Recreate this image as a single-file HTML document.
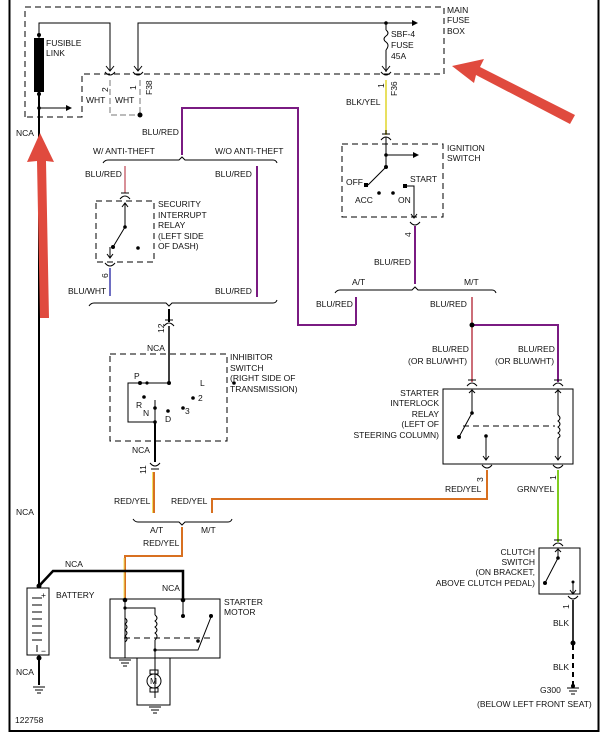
<!DOCTYPE html>
<html><head><meta charset="utf-8"><style>
html,body{margin:0;padding:0;background:#fff}
svg{display:block}
text{font-family:"Liberation Sans",sans-serif;font-size:8.5px;fill:#111}
</style></head><body>
<svg width="604" height="735" viewBox="0 0 604 735" xmlns="http://www.w3.org/2000/svg">
<rect x="0" y="0" width="604" height="735" fill="#fff"/>
<rect x="9.5" y="-2" width="589" height="733" fill="none" stroke="#000" stroke-width="2"/>
<g fill="none" stroke="#000" stroke-width="1" stroke-dasharray="6,4">
<path d="M25,117 V7 H444 V74 H82 V117 Z"/>
<rect x="96" y="201" width="58" height="61"/>
<rect x="110" y="354" width="117" height="87"/>
<rect x="342" y="144" width="101" height="73"/>
<path d="M124,638 H210"/>
<path d="M463,426 H555"/>
</g>
<!-- fusible link & top wires -->
<g stroke="#000" stroke-width="1" fill="none">
<path d="M39,38 V23 H110 V70"/>
<path d="M138,70 V23 H412"/>
<path d="M386,23 V30 M386,50 V72"/>
<path d="M386,30 q4,3 0,6 q-4,3 0,6 q4,3 0,8"/>
<path d="M39,108 H68"/>
<path d="M105,72 q5,6 10,0 M133,72 q5,6 10,0 M381,72 q5,6 10,0"/>
<path d="M106,66 l4,5 4,-5 M134,66 l4,5 4,-5 M382,66 l4,5 4,-5"/>
</g>
<polygon points="412,20 418,23 412,26" fill="#000"/>
<polygon points="66,105 72,108 66,111" fill="#000"/>
<circle cx="39" cy="35" r="2" fill="#000"/><circle cx="39" cy="94" r="2" fill="#000"/>
<circle cx="39" cy="108" r="1.8" fill="#000"/><circle cx="386" cy="23" r="1.8" fill="#000"/>
<rect x="34" y="38" width="10" height="54" fill="#000"/>
<line x1="39" y1="92" x2="39" y2="585" stroke="#000" stroke-width="2"/>
<path d="M110,80 V115 H140 M140,80 V115" stroke="#bbb" stroke-width="2" fill="none" stroke-dasharray="6,3"/>
<circle cx="140" cy="115" r="2.5" fill="#000"/>
<text x="46" y="46">FUSIBLE</text><text x="46" y="56">LINK</text>
<text x="86" y="103">WHT</text><text x="115" y="103">WHT</text>
<text transform="translate(108,92) rotate(-90)">2</text>
<text transform="translate(136,90) rotate(-90)">1</text>
<text transform="translate(152,95) rotate(-90)">F38</text>
<text x="391" y="37">SBF-4</text><text x="391" y="48">FUSE</text><text x="391" y="59">45A</text>
<text x="447" y="13">MAIN</text><text x="447" y="23">FUSE</text><text x="447" y="34">BOX</text>
<text x="16" y="136">NCA</text>
<text transform="translate(384,88) rotate(-90)">1</text>
<text transform="translate(397,96) rotate(-90)">F36</text>
<line x1="386" y1="80" x2="386" y2="135" stroke="#e8e060" stroke-width="2"/>
<text x="346" y="105">BLK/YEL</text>
<!-- ignition -->
<g stroke="#000" fill="none">
<path d="M381,140 q5,-6 10,0 M382,134 h8 M386,134 v-4"/>
<path d="M386,137 V167 M386,155 H413 M386,167 L368,185"/>
<path d="M405,186 H414 V217"/>
<path d="M410,222 q5,6 10,0 M411,214 l3,4 3,-4"/>
</g>
<polygon points="413,152 419,155 413,158" fill="#000"/>
<circle cx="386" cy="155" r="1.8"/><circle cx="386" cy="167" r="2"/>
<rect x="364" y="183" width="4" height="4"/><circle cx="379" cy="193" r="1.8"/><circle cx="393" cy="193" r="1.8"/><rect x="403" y="184" width="4" height="4"/>
<text x="447" y="151">IGNITION</text><text x="447" y="161">SWITCH</text>
<text x="346" y="185">OFF</text><text x="355" y="203">ACC</text><text x="398" y="203">ON</text><text x="410" y="182">START</text>
<text transform="translate(411,237) rotate(-90)">4</text>
<line x1="415" y1="226" x2="415" y2="284" stroke="#7a1b82" stroke-width="2"/>
<text x="374" y="265">BLU/RED</text>
<path d="M335,293 q2,-3 5,-3 H412 l3,-3 3,3 H492 q3,0 4,3" stroke="#000" fill="none"/>
<text x="352" y="285">A/T</text><text x="464" y="285">M/T</text>
<text x="316" y="307">BLU/RED</text><text x="430" y="307">BLU/RED</text>
<line x1="356" y1="297" x2="356" y2="325" stroke="#7a1b82" stroke-width="2"/>
<line x1="472" y1="297" x2="472" y2="382" stroke="#b02030" stroke-width="1.3"/>
<path d="M472,325 H558 V382" stroke="#7a1b82" stroke-width="2" fill="none"/>
<circle cx="472" cy="325" r="2.5"/>
<!-- purple from brace -->
<path d="M182,155 V108 H298 V325 H356" stroke="#7a1b82" stroke-width="2" fill="none"/>
<text x="142" y="135">BLU/RED</text>
<path d="M103,163 q2,-3 5,-3 H179 l3,-3 3,3 H273 q3,0 4,3" stroke="#000" fill="none"/>
<text x="93" y="154">W/ ANTI-THEFT</text><text x="215" y="154">W/O ANTI-THEFT</text>
<text x="85" y="177">BLU/RED</text><text x="215" y="177">BLU/RED</text>
<line x1="125" y1="166" x2="125" y2="193" stroke="#b02030" stroke-width="1"/>
<line x1="257" y1="166" x2="257" y2="297" stroke="#7a1b82" stroke-width="2"/>
<g stroke="#000" fill="none">
<path d="M120,199 q5,-6 10,0 M121,193 h8"/>
<path d="M125,203 V227 L113,247 M122,207 l3,-4 3,4"/>
<path d="M110,247 V258 M107,254 l3,4 3,-4 M105,263 q5,6 10,0"/>
</g>
<circle cx="125" cy="227" r="1.8"/><circle cx="113" cy="247" r="2"/><circle cx="138" cy="248" r="1.8"/>
<text x="158" y="207">SECURITY</text><text x="158" y="218">INTERRUPT</text><text x="158" y="228">RELAY</text><text x="158" y="239">(LEFT SIDE</text><text x="158" y="249">OF DASH)</text>
<text transform="translate(108,278) rotate(-90)">6</text>
<line x1="110" y1="268" x2="110" y2="296" stroke="#2020a0" stroke-width="1.3"/>
<text x="68" y="294">BLU/WHT</text><text x="215" y="294">BLU/RED</text>
<path d="M89,306 q2,-3 5,-3 H166 l3,3 3,-3 H273 q3,0 4,-3" stroke="#000" fill="none"/>
<line x1="169" y1="309" x2="169" y2="322" stroke="#000" stroke-width="2"/>
<path d="M164,326 q5,-6 10,0 M165,320 h8" stroke="#000" fill="none"/>
<text transform="translate(164,333) rotate(-90)">12</text>
<line x1="169" y1="326" x2="169" y2="383" stroke="#000" stroke-width="1.5"/>
<text x="147" y="351">NCA</text>
<path d="M169,383 H128 V422 H155 V400" stroke="#000" fill="none"/>
<line x1="155" y1="422" x2="155" y2="462" stroke="#000" stroke-width="2"/>
<circle cx="169" cy="383" r="2"/><circle cx="140" cy="383" r="2"/><circle cx="147" cy="383" r="1.6"/><circle cx="155" cy="422" r="1.8"/>
<circle cx="234" cy="383" r="1.8"/><circle cx="144" cy="397" r="1.8"/><circle cx="155" cy="408" r="1.8"/><circle cx="168" cy="411" r="1.8"/><circle cx="193" cy="398" r="1.8"/><circle cx="183" cy="408" r="1.8"/>
<text x="134" y="379">P</text><text x="200" y="386">L</text><text x="136" y="408">R</text><text x="143" y="416">N</text><text x="165" y="422">D</text><text x="198" y="401">2</text><text x="185" y="414">3</text>
<text x="230" y="360">INHIBITOR</text><text x="230" y="371">SWITCH</text><text x="230" y="381">(RIGHT SIDE OF</text><text x="230" y="392">TRANSMISSION)</text>
<text x="132" y="453">NCA</text>
<path d="M150,463 q5,6 10,0 M151,469 h8" stroke="#000" fill="none"/>
<text transform="translate(146,474) rotate(-90)">11</text>
<line x1="154" y1="472" x2="154" y2="513" stroke="#d87020" stroke-width="2"/>
<line x1="152.5" y1="472" x2="152.5" y2="513" stroke="#f0e060" stroke-width="1"/>
<text x="114" y="504">RED/YEL</text><text x="171" y="504">RED/YEL</text>
<path d="M212,513 V499 H487 V470" stroke="#d87020" stroke-width="2" fill="none"/>
<path d="M133,519 q2,3 5,3 H179 l3,3 3,-3 H228 q3,0 4,-3" stroke="#000" fill="none"/>
<text x="150" y="533">A/T</text><text x="201" y="533">M/T</text>
<text x="143" y="546">RED/YEL</text>
<path d="M182,527 V556 H125 V600" stroke="#d87020" stroke-width="2" fill="none"/>
<line x1="124" y1="558" x2="124" y2="600" stroke="#f0e060" stroke-width="1"/>
<!-- battery and starter -->
<path d="M39,586 L53,571 H183 V600" stroke="#000" stroke-width="2.5" fill="none"/>
<text x="65" y="567">NCA</text><text x="162" y="591">NCA</text>
<rect x="27" y="588" width="22" height="67" fill="none" stroke="#000"/>
<g stroke="#000"><path d="M32,598 h10 M32,605 h10 M32,612 h10 M32,619 h10 M32,626 h10 M32,633 h10 M32,640 h10 M37,645 v7"/></g>
<text x="41" y="598">+</text><text x="41" y="654">−</text>
<circle cx="39" cy="586" r="2.5"/><circle cx="39" cy="658" r="2.5"/>
<line x1="39" y1="658" x2="39" y2="685" stroke="#000" stroke-width="2"/>
<g stroke="#000"><path d="M33,687 h12 M35,690 h8 M37,693 h4"/></g>
<text x="56" y="598">BATTERY</text><text x="16" y="675">NCA</text><text x="16" y="515">NCA</text>
<rect x="110" y="599" width="110" height="59" fill="none" stroke="#000"/>
<path d="M125,600 V658 M125,608 H155 V615 M155,640 V698 M155,650 H198 L211,617 M183,600 V616" stroke="#000" fill="none"/>
<path d="M125,618 q4,3 0,6 q4,3 0,6 q4,3 0,6 q4,3 0,6 M155,615 q4,3 0,6 q4,3 0,6 q4,3 0,6 q4,3 0,7" stroke="#000" fill="none"/>
<circle cx="125" cy="600" r="2.3"/><circle cx="183" cy="600" r="2.3"/><circle cx="125" cy="608" r="1.6"/><circle cx="183" cy="616" r="2"/><circle cx="198" cy="641" r="1.8"/><circle cx="155" cy="650" r="1.6"/><circle cx="211" cy="616" r="2"/>
<g stroke="#000"><path d="M119,660 h12 M121,663 h8 M123,666 h4 M149,707 h12 M151,710 h8 M153,713 h4"/></g>
<rect x="137" y="658" width="33" height="47" fill="none" stroke="#000"/>
<circle cx="154" cy="681" r="7" fill="none" stroke="#000"/><text x="150" y="684">M</text>
<rect x="150" y="670" width="8" height="4" fill="none" stroke="#000"/><rect x="150" y="688" width="8" height="4" fill="none" stroke="#000"/>
<text x="224" y="605">STARTER</text><text x="224" y="615">MOTOR</text>
<text x="15" y="723">122758</text>
<!-- interlock relay -->
<text x="432" y="352">BLU/RED</text><text x="408" y="364">(OR BLU/WHT)</text>
<text x="518" y="352">BLU/RED</text><text x="495" y="364">(OR BLU/WHT)</text>
<g stroke="#000" fill="none">
<path d="M467,386 q5,-6 10,0 M468,380 h8 M553,386 q5,-6 10,0 M554,380 h8"/>
<rect x="443" y="389" width="130" height="75"/>
<path d="M472,390 V413 L459,437 M469,393 l3,-3 3,3"/>
<path d="M486,436 V460 M483,456 l3,4 3,-4 M482,465 q5,6 10,0"/>
<path d="M558,390 V415 M558,438 V460 M555,393 l3,-3 3,3 M555,456 l3,4 3,-4 M553,465 q5,6 10,0"/>
<path d="M558,415 q4,3 0,6 q4,3 0,6 q4,3 0,6 q4,3 0,5"/>
</g>
<circle cx="472" cy="413" r="1.8"/><circle cx="459" cy="437" r="2"/><circle cx="486" cy="436" r="1.8"/>
<g text-anchor="end"><text x="439" y="396">STARTER</text><text x="439" y="406">INTERLOCK</text><text x="439" y="417">RELAY</text><text x="439" y="427">(LEFT OF</text><text x="439" y="438">STEERING COLUMN)</text>
<text x="535" y="555">CLUTCH</text><text x="535" y="565">SWITCH</text><text x="535" y="575">(ON BRACKET,</text><text x="535" y="586">ABOVE CLUTCH PEDAL)</text></g>
<text transform="translate(483,482) rotate(-90)">3</text><text transform="translate(556,480) rotate(-90)">1</text>
<text x="445" y="492">RED/YEL</text><text x="517" y="492">GRN/YEL</text>
<line x1="558" y1="470" x2="558" y2="542" stroke="#80cc20" stroke-width="2"/>
<g stroke="#000" fill="none">
<path d="M553,546 q5,-6 10,0 M554,540 h8"/>
<rect x="539" y="548" width="41" height="46"/>
<path d="M558,549 V558 L545,583 M555,552 l3,-3 3,3"/>
<path d="M573,583 V594 M570,590 l3,4 3,-4 M568,596 q5,6 10,0"/>
</g>
<circle cx="558" cy="558" r="1.8"/><circle cx="545" cy="583" r="2"/><circle cx="573" cy="582" r="1.5"/>
<text transform="translate(569,609) rotate(-90)">1</text>
<line x1="573" y1="600" x2="573" y2="643" stroke="#333" stroke-width="2"/>
<circle cx="573" cy="643" r="2.5"/>
<line x1="573" y1="645" x2="573" y2="685" stroke="#000" stroke-width="2" stroke-dasharray="5,4"/>
<g stroke="#000"><path d="M567,688 h12 M569,691 h8 M571,694 h4"/></g>
<circle cx="573" cy="686" r="2"/>
<text x="553" y="626">BLK</text><text x="553" y="670">BLK</text><text x="540" y="693">G300</text>
<text x="477" y="707">(BELOW LEFT FRONT SEAT)</text>
<!-- red arrows -->
<g fill="#e04a3e">
<path d="M40,133 L54,162 L46,161 L49,318 L40,318 L37,161 L27,162 Z"/>
<path d="M452,66 L484,59 L480,67 L575,115 L570,124 L476,75 L474,83 Z"/>
</g>
</svg>
</body></html>
